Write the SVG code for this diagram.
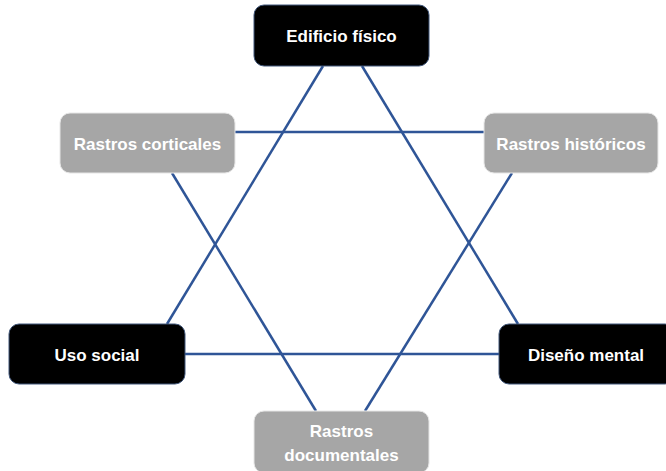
<svg xmlns="http://www.w3.org/2000/svg" width="666" height="471" viewBox="0 0 666 471">
<style>
.dark rect{fill:#000;stroke:#41577a;stroke-width:1}
.gray rect{fill:#a6a6a6;stroke:#e6e6e6;stroke-width:1}
text{font-family:"Liberation Sans",Arial,sans-serif;font-weight:bold;font-size:17px;fill:#fff;text-anchor:middle;dominant-baseline:central}
.edges line{stroke:#2f5597;stroke-width:2.5;stroke-linecap:butt}
</style>
<rect width="666" height="471" fill="#fff"/>
<g class="edges" id="connectors">
<line x1="323" y1="66" x2="167" y2="324"/>
<line x1="362" y1="66" x2="518" y2="324"/>
<line x1="185" y1="354" x2="499" y2="354"/>
<line x1="235" y1="132" x2="484" y2="132"/>
<line x1="172" y1="173" x2="316" y2="411"/>
<line x1="512" y1="173" x2="365" y2="411"/>
</g>
<g id="edificio" class="dark"><rect x="254" y="5" width="175" height="61" rx="10"/><text x="341.5" y="36">Edificio físico</text></g>
<g id="corticales" class="gray"><rect x="60" y="113" width="175" height="60" rx="10"/><text x="147.5" y="144">Rastros corticales</text></g>
<g id="historicos" class="gray"><rect x="484" y="113" width="174" height="60" rx="10"/><text x="571" y="144">Rastros históricos</text></g>
<g id="uso" class="dark"><rect x="9" y="324" width="176" height="60" rx="10"/><text x="97" y="355">Uso social</text></g>
<g id="diseno" class="dark"><rect x="499" y="324" width="176" height="60" rx="10"/><text x="586" y="355">Diseño mental</text></g>
<g id="documentales" class="gray"><rect x="254" y="411" width="175" height="62" rx="10"/><text x="341.5" y="431">Rastros</text><text x="341.5" y="455">documentales</text></g>
</svg>
